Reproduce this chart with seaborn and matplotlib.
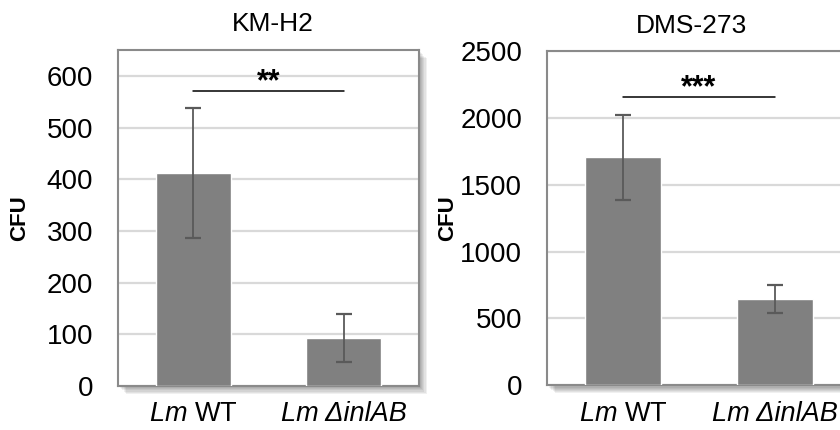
import matplotlib
matplotlib.use("Agg")
import matplotlib.pyplot as plt
import seaborn as sns
import pandas as pd
from matplotlib.patches import Rectangle

sns.set_theme(style="white")
plt.rcParams['font.family'] = ['Liberation Sans', 'DejaVu Sans']
plt.rcParams['mathtext.fontset'] = 'custom'
plt.rcParams['mathtext.it'] = 'Liberation Sans:italic'
plt.rcParams['mathtext.rm'] = 'Liberation Sans'
plt.rcParams['text.color'] = 'black'

# ---- data ----
categories = [r"$\mathit{Lm}$ WT", "Lm ΔinlAB"]
kmh2_values = [412, 93]
kmh2_errors = [126, 46]
dms_values = [1704, 643]
dms_errors = [317, 106]
titles = ["KM-H2", "DMS-273"]
stars = ["**", "***"]
sig_heights = [570, 2155]
ylims = [650, 2500]
yticks_km = [0, 100, 200, 300, 400, 500, 600]
yticks_dms = [0, 500, 1000, 1500, 2000, 2500]

fig = plt.figure(figsize=(8.4, 4.3), dpi=100)

axes_rects = [
    [118 / 840, 44 / 430, 301 / 840, 336 / 430],
    [547 / 840, 44.7 / 430, 304 / 840, 334.3 / 430],
]
title_x = [273 / 840, 692 / 840]
title_y = [1 - 24 / 430, 1 - 26 / 430]
ylab_x = [20 / 840, 448 / 840]

datasets = [
    (kmh2_values, kmh2_errors, yticks_km),
    (dms_values, dms_errors, yticks_dms),
]

for i, (vals, errs, yt) in enumerate(datasets):
    r = axes_rects[i]
    # soft drop shadow
    for k in range(7):
        off = (k + 1) * 1.1
        fig.patches.append(Rectangle((r[0] + off / 840, r[1] - off / 430), r[2], r[3],
                                     transform=fig.transFigure, facecolor='black',
                                     alpha=0.06, edgecolor='none', zorder=0))
    ax = fig.add_axes(r)
    ax.set_zorder(1)
    ax.set_facecolor('white')
    df = pd.DataFrame({"strain": categories, "cfu": vals})
    sns.barplot(data=df, x="strain", y="cfu", color="#808080", saturation=1,
                width=0.5, errorbar=None, ax=ax, zorder=3)
    ax.errorbar(x=list(range(len(vals))), y=vals, yerr=errs, fmt='none',
                ecolor='#5a5a5a', elinewidth=1.3, capsize=5.5, capthick=1.6, zorder=4)
    ax.set_ylim(0, ylims[i])
    ax.set_xlim(-0.5, 1.5)
    ax.set_yticks(yt)
    ax.yaxis.grid(True, color='#d9d9d9', linewidth=1.6, zorder=0)
    ax.set_axisbelow(True)
    for s in ax.spines.values():
        s.set_color('#8a8a8a')
        s.set_linewidth(1.5)
    ax.tick_params(axis='y', length=0, pad=18, labelsize=20, labelcolor='black')
    ax.tick_params(axis='x', length=0, pad=11, labelsize=19.5, labelcolor='black')
    ax.get_xticklabels()[1].set_fontstyle('italic')
    ax.set_xlabel("")
    ax.set_ylabel("")
    # significance bar
    ax.plot([0, 1], [sig_heights[i], sig_heights[i]], color='black', linewidth=1.1,
            clip_on=False, zorder=5)
    ax.annotate(stars[i], xy=(0.5, sig_heights[i]), xytext=(0, -4.5),
                textcoords='offset points', ha='center', va='bottom',
                fontsize=22, fontweight='bold', color='black')
    fig.text(title_x[i], title_y[i], titles[i], ha='center', va='center', fontsize=19,
             color='black')
    fig.text(ylab_x[i], (r[1] + r[3] / 2), "CFU", rotation=90, ha='center', va='center',
             fontsize=16, fontweight='bold', color='black')

fig.savefig("out.png", dpi=100)
